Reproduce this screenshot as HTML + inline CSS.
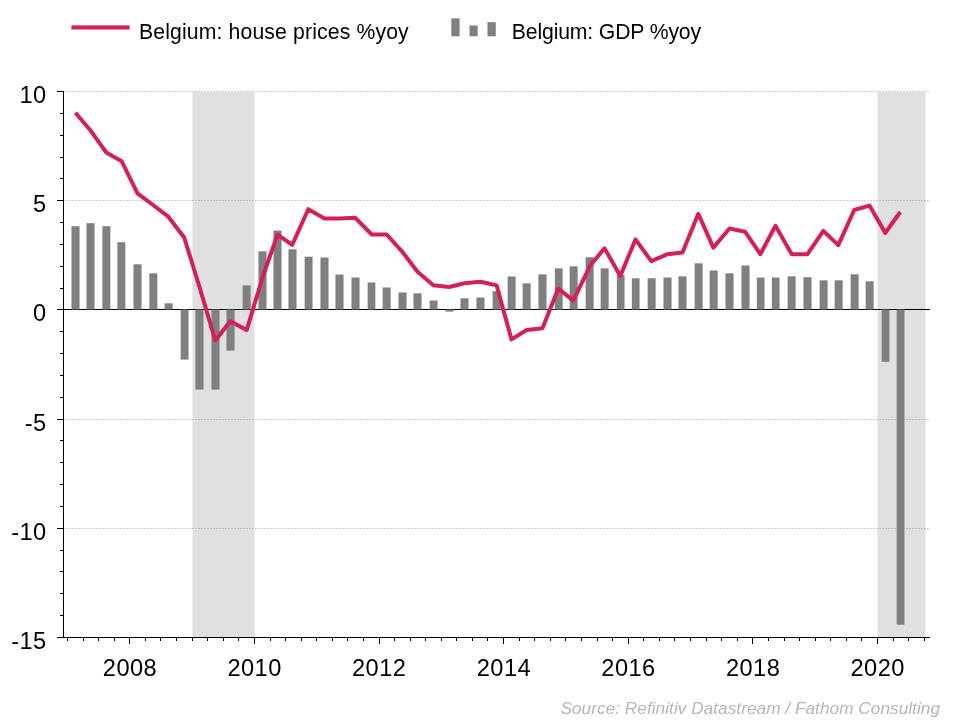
<!DOCTYPE html>
<html lang="en"><head><meta charset="utf-8"><title>Belgium: house prices and GDP</title>
<style>html,body{margin:0;padding:0;background:#fff;}body{width:960px;height:720px;overflow:hidden;}svg{display:block;}text{font-family:"Liberation Sans",sans-serif;fill:#000;}</style></head><body>
<svg width="960" height="720" viewBox="0 0 960 720">
<rect x="0" y="0" width="960" height="720" fill="#ffffff"/>
<g fill="#e0e0e0">
<rect x="192.5" y="92" width="62" height="545"/>
<rect x="877.5" y="92" width="48" height="545"/>
</g>
<g stroke="#64707a" stroke-opacity="0.33" stroke-width="1" stroke-dasharray="2 1" fill="none">
<line x1="63" y1="91.5" x2="929.5" y2="91.5"/>
<line x1="63" y1="200.5" x2="929.5" y2="200.5"/>
<line x1="63" y1="419.5" x2="929.5" y2="419.5"/>
<line x1="63" y1="528.5" x2="929.5" y2="528.5"/>
</g>
<rect x="57" y="309" width="873" height="1" fill="#000"/>
<g fill="#808080">
<rect x="71.45" y="226.20" width="8.10" height="83.30"/>
<rect x="86.45" y="223.20" width="8.10" height="86.30"/>
<rect x="102.35" y="226.20" width="8.00" height="83.30"/>
<rect x="117.35" y="242.20" width="8.00" height="67.30"/>
<rect x="133.45" y="264.30" width="8.10" height="45.20"/>
<rect x="149.35" y="273.30" width="8.00" height="36.20"/>
<rect x="164.65" y="303.30" width="8.00" height="6.20"/>
<rect x="180.65" y="309.50" width="7.90" height="50.10"/>
<rect x="195.45" y="309.50" width="8.10" height="80.10"/>
<rect x="211.45" y="309.50" width="8.10" height="80.10"/>
<rect x="226.45" y="309.50" width="8.10" height="41.10"/>
<rect x="242.65" y="285.30" width="8.00" height="24.20"/>
<rect x="258.45" y="251.30" width="8.10" height="58.20"/>
<rect x="273.45" y="230.50" width="8.10" height="79.00"/>
<rect x="288.45" y="249.30" width="8.10" height="60.20"/>
<rect x="304.65" y="256.70" width="7.90" height="52.80"/>
<rect x="320.45" y="257.50" width="8.10" height="52.00"/>
<rect x="335.45" y="274.50" width="8.10" height="35.00"/>
<rect x="351.45" y="277.50" width="8.10" height="32.00"/>
<rect x="367.65" y="282.50" width="7.70" height="27.00"/>
<rect x="382.65" y="287.50" width="8.00" height="22.00"/>
<rect x="398.45" y="292.50" width="8.10" height="17.00"/>
<rect x="413.45" y="293.30" width="8.10" height="16.20"/>
<rect x="429.65" y="300.50" width="7.90" height="9.00"/>
<rect x="445.45" y="309.50" width="8.10" height="2.10"/>
<rect x="460.45" y="298.30" width="8.10" height="11.20"/>
<rect x="476.45" y="297.50" width="8.10" height="12.00"/>
<rect x="492.65" y="291.30" width="8.00" height="18.20"/>
<rect x="507.65" y="276.50" width="8.00" height="33.00"/>
<rect x="522.65" y="283.30" width="8.00" height="26.20"/>
<rect x="538.45" y="274.40" width="8.10" height="35.10"/>
<rect x="554.85" y="268.30" width="7.80" height="41.20"/>
<rect x="569.65" y="266.30" width="8.00" height="43.20"/>
<rect x="585.65" y="257.20" width="8.00" height="52.30"/>
<rect x="600.65" y="268.30" width="8.00" height="41.20"/>
<rect x="616.85" y="275.00" width="7.70" height="34.50"/>
<rect x="631.85" y="278.30" width="7.70" height="31.20"/>
<rect x="647.65" y="278.30" width="8.00" height="31.20"/>
<rect x="663.45" y="277.50" width="8.10" height="32.00"/>
<rect x="678.45" y="276.30" width="8.10" height="33.20"/>
<rect x="694.65" y="263.30" width="8.00" height="46.20"/>
<rect x="709.65" y="270.50" width="8.00" height="39.00"/>
<rect x="725.45" y="273.30" width="8.10" height="36.20"/>
<rect x="741.45" y="265.50" width="8.10" height="44.00"/>
<rect x="756.85" y="277.50" width="7.70" height="32.00"/>
<rect x="771.85" y="277.50" width="7.70" height="32.00"/>
<rect x="787.65" y="276.30" width="8.00" height="33.20"/>
<rect x="803.45" y="277.20" width="8.10" height="32.30"/>
<rect x="819.65" y="280.30" width="8.00" height="29.20"/>
<rect x="834.65" y="280.30" width="8.00" height="29.20"/>
<rect x="850.65" y="274.30" width="8.00" height="35.20"/>
<rect x="865.65" y="281.30" width="8.00" height="28.20"/>
<rect x="881.65" y="309.50" width="7.80" height="52.30"/>
<rect x="896.65" y="309.50" width="7.80" height="315.20"/>
</g>
<g fill="#000">
<rect x="63" y="91" width="1" height="547"/>
<rect x="57" y="637" width="873" height="1"/>
<rect x="60" y="615" width="3" height="1"/>
<rect x="60" y="593" width="3" height="1"/>
<rect x="60" y="571" width="3" height="1"/>
<rect x="60" y="550" width="3" height="1"/>
<rect x="57" y="528" width="6" height="1"/>
<rect x="60" y="506" width="3" height="1"/>
<rect x="60" y="484" width="3" height="1"/>
<rect x="60" y="462" width="3" height="1"/>
<rect x="60" y="440" width="3" height="1"/>
<rect x="57" y="419" width="6" height="1"/>
<rect x="60" y="397" width="3" height="1"/>
<rect x="60" y="375" width="3" height="1"/>
<rect x="60" y="353" width="3" height="1"/>
<rect x="60" y="331" width="3" height="1"/>
<rect x="60" y="288" width="3" height="1"/>
<rect x="60" y="266" width="3" height="1"/>
<rect x="60" y="244" width="3" height="1"/>
<rect x="60" y="222" width="3" height="1"/>
<rect x="57" y="200" width="6" height="1"/>
<rect x="60" y="178" width="3" height="1"/>
<rect x="60" y="157" width="3" height="1"/>
<rect x="60" y="135" width="3" height="1"/>
<rect x="60" y="113" width="3" height="1"/>
<rect x="57" y="91" width="6" height="1"/>
<rect x="67" y="638" width="1" height="3"/>
<rect x="83" y="638" width="1" height="3"/>
<rect x="98" y="638" width="1" height="3"/>
<rect x="114" y="638" width="1" height="3"/>
<rect x="129" y="638" width="1" height="6"/>
<rect x="145" y="638" width="1" height="3"/>
<rect x="160" y="638" width="1" height="3"/>
<rect x="176" y="638" width="1" height="3"/>
<rect x="192" y="638" width="1" height="3"/>
<rect x="207" y="638" width="1" height="3"/>
<rect x="223" y="638" width="1" height="3"/>
<rect x="238" y="638" width="1" height="3"/>
<rect x="254" y="638" width="1" height="6"/>
<rect x="270" y="638" width="1" height="3"/>
<rect x="285" y="638" width="1" height="3"/>
<rect x="301" y="638" width="1" height="3"/>
<rect x="316" y="638" width="1" height="3"/>
<rect x="332" y="638" width="1" height="3"/>
<rect x="347" y="638" width="1" height="3"/>
<rect x="363" y="638" width="1" height="3"/>
<rect x="379" y="638" width="1" height="6"/>
<rect x="394" y="638" width="1" height="3"/>
<rect x="410" y="638" width="1" height="3"/>
<rect x="425" y="638" width="1" height="3"/>
<rect x="441" y="638" width="1" height="3"/>
<rect x="456" y="638" width="1" height="3"/>
<rect x="472" y="638" width="1" height="3"/>
<rect x="487" y="638" width="1" height="3"/>
<rect x="503" y="638" width="1" height="6"/>
<rect x="519" y="638" width="1" height="3"/>
<rect x="534" y="638" width="1" height="3"/>
<rect x="550" y="638" width="1" height="3"/>
<rect x="565" y="638" width="1" height="3"/>
<rect x="581" y="638" width="1" height="3"/>
<rect x="597" y="638" width="1" height="3"/>
<rect x="612" y="638" width="1" height="3"/>
<rect x="628" y="638" width="1" height="6"/>
<rect x="643" y="638" width="1" height="3"/>
<rect x="659" y="638" width="1" height="3"/>
<rect x="674" y="638" width="1" height="3"/>
<rect x="690" y="638" width="1" height="3"/>
<rect x="706" y="638" width="1" height="3"/>
<rect x="721" y="638" width="1" height="3"/>
<rect x="737" y="638" width="1" height="3"/>
<rect x="752" y="638" width="1" height="6"/>
<rect x="768" y="638" width="1" height="3"/>
<rect x="784" y="638" width="1" height="3"/>
<rect x="799" y="638" width="1" height="3"/>
<rect x="815" y="638" width="1" height="3"/>
<rect x="830" y="638" width="1" height="3"/>
<rect x="846" y="638" width="1" height="3"/>
<rect x="861" y="638" width="1" height="3"/>
<rect x="877" y="638" width="1" height="6"/>
<rect x="893" y="638" width="1" height="3"/>
<rect x="908" y="638" width="1" height="3"/>
<rect x="924" y="638" width="1" height="3"/>
</g>
<polyline points="75.4,112.8 90.8,130.8 106.3,152.5 121.7,161.3 137.5,193.3 153.0,205.0 168.3,216.7 184.2,237.5 199.5,287.0 215.3,340.4 230.3,321.3 246.7,330.1 262.6,277.3 277.5,234.6 292.2,244.9 308.3,209.2 324.5,218.6 339.5,218.6 355.3,217.8 371.7,234.5 386.7,234.5 402.8,252.4 417.5,271.7 433.3,285.3 449.2,287.0 464.5,283.3 480.5,281.7 496.6,285.4 511.5,339.4 526.7,330.0 542.5,328.3 558.3,288.6 573.3,300.6 590.0,265.8 604.5,248.3 620.3,275.9 635.5,239.4 651.3,261.2 667.5,254.2 682.5,252.5 698.3,213.8 713.3,247.6 729.5,228.5 745.0,231.7 760.3,254.2 775.5,225.8 791.7,254.2 807.5,254.2 823.3,230.9 838.3,245.1 854.2,210.0 869.5,205.6 885.3,232.9 900.3,212.0" fill="none" stroke="#d61f55" stroke-width="4.0" stroke-linejoin="round" stroke-linecap="butt"/>
<rect x="71.4" y="25.4" width="58.2" height="4.1" fill="#d61f55"/>
<text x="139" y="38.7" font-size="21.2" letter-spacing="0.14">Belgium: house prices %yoy</text>
<g fill="#808080"><rect x="451.3" y="18.3" width="8.3" height="18"/><rect x="469.5" y="25.5" width="8.2" height="10.8"/><rect x="487.5" y="22.2" width="8.3" height="14.1"/></g>
<text x="511.8" y="38.7" font-size="21.2" letter-spacing="-0.14">Belgium: GDP %yoy</text>
<text x="46.6" y="103.0" font-size="23.6" letter-spacing="0.45" text-anchor="end">10</text>
<text x="46.6" y="212.1" font-size="23.6" letter-spacing="0.45" text-anchor="end">5</text>
<text x="46.6" y="321.2" font-size="23.6" letter-spacing="0.45" text-anchor="end">0</text>
<text x="46.6" y="430.7" font-size="23.6" letter-spacing="0.45" text-anchor="end">-5</text>
<text x="46.6" y="539.9" font-size="23.6" letter-spacing="0.45" text-anchor="end">-10</text>
<text x="46.6" y="648.9" font-size="23.6" letter-spacing="0.45" text-anchor="end">-15</text>
<text x="130.0" y="675.8" font-size="23.6" letter-spacing="0.45" text-anchor="middle">2008</text>
<text x="254.6" y="675.8" font-size="23.6" letter-spacing="0.45" text-anchor="middle">2010</text>
<text x="379.2" y="675.8" font-size="23.6" letter-spacing="0.45" text-anchor="middle">2012</text>
<text x="503.9" y="675.8" font-size="23.6" letter-spacing="0.45" text-anchor="middle">2014</text>
<text x="628.5" y="675.8" font-size="23.6" letter-spacing="0.45" text-anchor="middle">2016</text>
<text x="753.1" y="675.8" font-size="23.6" letter-spacing="0.45" text-anchor="middle">2018</text>
<text x="877.7" y="675.8" font-size="23.6" letter-spacing="0.45" text-anchor="middle">2020</text>
<text x="940" y="713.8" font-size="17.2" font-style="italic" letter-spacing="0.045" text-anchor="end" style="fill:#b6b6b6">Source: Refinitiv Datastream / Fathom Consulting</text>
</svg></body></html>
